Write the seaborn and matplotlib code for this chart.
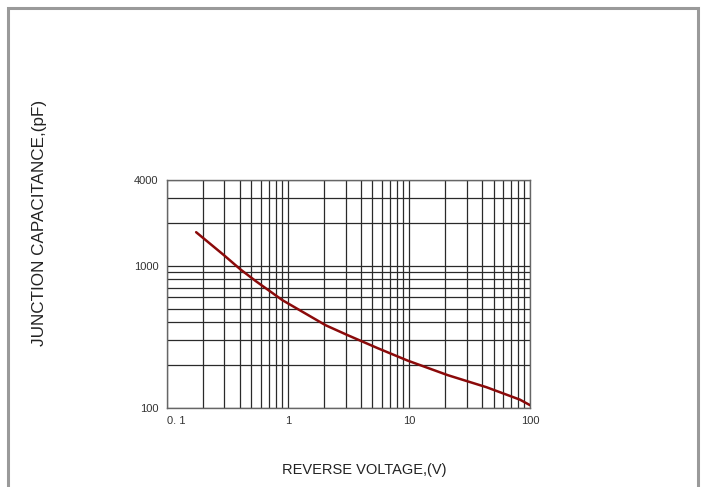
import matplotlib
matplotlib.use("Agg")
import matplotlib.pyplot as plt
import seaborn as sns
import pandas as pd
from matplotlib.patches import Rectangle
from matplotlib.ticker import FixedLocator, NullFormatter

# Data
voltage = [0.175, 0.297, 0.408, 0.543, 0.904, 2.06, 3.12, 5.54, 9.81, 21.0, 43.7, 82.5, 100]
capacitance = [1719, 1185, 939, 780, 572, 381, 325, 263, 215, 170, 140, 114.5, 104.7]

x_ticks = [0.1, 1, 10, 100]
x_tick_labels = ["0. 1", "1", "10", "100"]
y_ticks = [100, 1000, 4000]
y_tick_labels = ["100", "1000", "4000"]
x_minor = [0.2, 0.3, 0.4, 0.5, 0.6, 0.7, 0.8, 0.9,
           2, 3, 4, 5, 6, 7, 8, 9,
           20, 30, 40, 50, 60, 70, 80, 90]
y_minor = [200, 300, 400, 500, 600, 700, 800, 900, 2000, 3000]

sns.set_theme(style="white")
plt.rcParams['font.family'] = ['Liberation Sans', 'DejaVu Sans']

fig = plt.figure(figsize=(7.03, 4.87), dpi=100)
ax = fig.add_axes([166.7 / 703, 1 - 408 / 487, (530 - 166.7) / 703, (408 - 180) / 487])

df = pd.DataFrame({"v": voltage, "c": capacitance})
sns.lineplot(data=df, x="v", y="c", ax=ax, color="#8B0A0A", linewidth=1.8,
             estimator=None, sort=True, zorder=5)

ax.set_xscale("log")
ax.set_yscale("log")
ax.set_xlim(0.1, 100)
ax.set_ylim(100, 4000)

ax.xaxis.set_major_locator(FixedLocator(x_ticks))
ax.set_xticklabels(x_tick_labels)
ax.yaxis.set_major_locator(FixedLocator(y_ticks))
ax.set_yticklabels(y_tick_labels)
ax.xaxis.set_minor_locator(FixedLocator(x_minor))
ax.yaxis.set_minor_locator(FixedLocator(y_minor))
ax.xaxis.set_minor_formatter(NullFormatter())
ax.yaxis.set_minor_formatter(NullFormatter())

ax.grid(True, which="both", color="#2a2a2a", linewidth=0.9)
ax.tick_params(which="both", length=0, labelsize=8, colors="#333333", pad=6)
for lbl in ax.get_xticklabels():
    if lbl.get_text() == "0. 1":
        lbl.set_horizontalalignment("left")

for s in ax.spines.values():
    s.set_color("#666666")
    s.set_linewidth(1.0)

ax.set_xlabel("")
ax.set_ylabel("")

fig.text(364 / 703, 1 - 470 / 487, "REVERSE VOLTAGE,(V)", ha="center", va="center",
         fontsize=10.5, color="#222222")
fig.text(40 / 703, 1 - 223 / 487, "JUNCTION CAPACITANCE,(pF)", ha="center", va="center",
         rotation=90, fontsize=12.3, color="#222222")

# Gray frame around the figure
fig.patches.append(Rectangle((8 / 703, -0.05), (697.5 - 8) / 703, 1.05 - 8 / 487,
                             transform=fig.transFigure, fill=False,
                             edgecolor="#9a9a9a", linewidth=2.2))

fig.savefig("out.png", dpi=100)
